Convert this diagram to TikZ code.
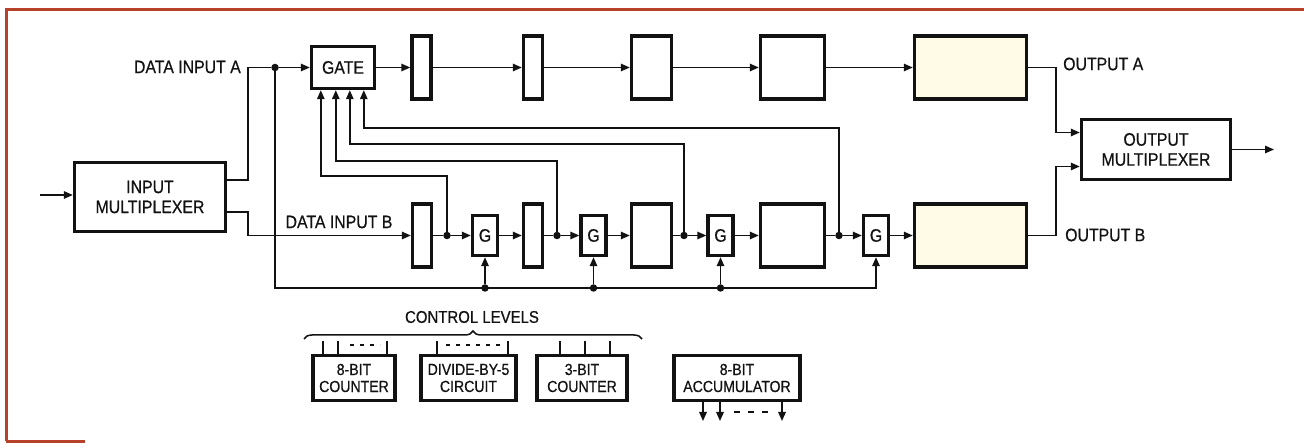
\documentclass[tikz,border=0pt]{standalone}
\usepackage{fontspec}
\setmainfont{Liberation Sans}[FakeStretch=0.88, FakeBold=0.6]
\usetikzlibrary{arrows.meta, positioning, calc, decorations.pathreplacing}
\definecolor{framecol}{HTML}{B8412C}
\definecolor{inkcol}{HTML}{121212}
\definecolor{outcol}{HTML}{FFFBE6}

\begin{document}
\begin{tikzpicture}[
    x=1pt, y=-1pt,
    every node/.style={font=\fontsize{18}{20}\selectfont, text=inkcol},
    box/.style={rectangle, draw=inkcol, line width=3.4pt, inner sep=0pt,
                align=center},
    reg/.style={box, minimum width=#1, minimum height=63pt},
    reg/.default=19pt,
    gbox/.style={box, minimum width=25pt, minimum height=40pt},
    mux/.style={box, minimum width=#1, minimum height=62pt},
    outbox/.style={box, fill=outcol, minimum width=112pt, minimum height=63pt},
    cbox/.style={box, minimum height=45pt, font=\fontsize{16}{17}\selectfont},
    wire/.style={line width=1.5pt, draw=inkcol},
    arr/.style={wire, -{Triangle[length=9pt, width=7.5pt]}},
    dot/.style={circle, fill=inkcol, inner sep=0pt, minimum size=7.5pt},
    lbl/.style={inner sep=0pt},
]
\useasboundingbox (0,0) rectangle (1304,443);

% frame
\draw[framecol, line width=3pt] (6,441) -- (6,10) -- (1304,10);
\draw[framecol, line width=3pt] (6,441) -- (85,441);

% input side
\coordinate (inp) at (40,195);
\node[mux=151pt, minimum height=69pt] (inmux) at (150,197) {INPUT\\MULTIPLEXER};
\node[box, minimum width=63pt, minimum height=42pt] (gate) at (343,67.5) {GATE};
\node[dot] (dA) at (275,67.5) {};

% channel A
\node[reg] (ua1) at (421.5,67.5) {};
\node[reg] (ua2) at (533,67.5) {};
\node[reg=40pt] (ua3) at (651.5,67.5) {};
\node[reg=64pt] (ua4) at (792.5,67.5) {};
\node[outbox] (outa) at (970.5,67.5) {};

% channel B
\node[reg] (lb1) at (422,235.5) {};
\node[gbox] (g1) at (485,235.5) {G};
\node[reg] (lb2) at (533,235.5) {};
\node[gbox] (g2) at (593.5,235.5) {G};
\node[reg=40pt] (lb3) at (651.5,235.5) {};
\node[gbox] (g3) at (720.5,235.5) {G};
\node[reg=64pt] (lb4) at (792.5,235.5) {};
\node[gbox] (g4) at (876,235.5) {G};
\node[outbox] (outb) at (970.5,235.5) {};

\node[dot] (d1) at (447,235.5) {};
\node[dot] (d2) at (557,235.5) {};
\node[dot] (d3) at (684,235.5) {};
\node[dot] (d4) at (839,235.5) {};

% output side
\node[mux=149pt, minimum height=60pt] (omux) at (1156,149.5) {OUTPUT\\MULTIPLEXER};
\coordinate (outp) at (1274,149.5);

% labels
\node[lbl, anchor=east] (lbla) at (241,67) {DATA INPUT A};
\node[lbl] (lblb) at (339,222) {DATA INPUT B};
\node[lbl, anchor=west] (lbloa) at (1063,64) {OUTPUT A};
\node[lbl, anchor=west] (lblob) at (1065,235) {OUTPUT B};

% input connections
\draw[arr] (inp) -- (inp -| inmux.west);
\draw[wire] (inmux.east |- 0,180) -- (248,180) |- (dA);
\draw[arr] (dA) -- (gate);
\draw[arr] (inmux.east |- 0,212) -- (248,212) |- (lb1);

% channel A arrows
\draw[arr] (gate) -- (ua1);
\draw[arr] (ua1) -- (ua2);
\draw[arr] (ua2) -- (ua3);
\draw[arr] (ua3) -- (ua4);
\draw[arr] (ua4) -- (outa);

% channel B arrows
\draw[wire] (lb1) -- (d1);
\draw[arr] (d1) -- (g1);
\draw[arr] (g1) -- (lb2);
\draw[wire] (lb2) -- (d2);
\draw[arr] (d2) -- (g2);
\draw[arr] (g2) -- (lb3);
\draw[wire] (lb3) -- (d3);
\draw[arr] (d3) -- (g3);
\draw[arr] (g3) -- (lb4);
\draw[wire] (lb4) -- (d4);
\draw[arr] (d4) -- (g4);
\draw[arr] (g4) -- (outb);

% feedback to gate
\coordinate (gi1) at ($(gate.south west)+(11,0)$);
\coordinate (gi2) at ($(gate.south west)+(26,0)$);
\coordinate (gi3) at ($(gate.south west)+(40,0)$);
\coordinate (gi4) at ($(gate.south west)+(54,0)$);
\draw[arr] (d1) -- (d1 |- 0,176) -| (gi1);
\draw[arr] (d2) -- (d2 |- 0,161) -| (gi2);
\draw[arr] (d3) -- (d3 |- 0,144) -| (gi3);
\draw[arr] (d4) -- (d4 |- 0,128) -| (gi4);

% clock bus
\coordinate (bus) at (275,288);
\draw[arr] (dA) |- (g4 |- bus) -- (g4);
\node[dot] (b1) at (g1 |- bus) {};
\node[dot] (b2) at (g2 |- bus) {};
\node[dot] (b3) at (g3 |- bus) {};
\draw[arr] (b1) -- (g1);
\draw[arr] (b2) -- (g2);
\draw[arr] (b3) -- (g3);

% outputs
\draw[arr] (outa) -- (1056,67.5) |- ($(omux.west)+(0,-17)$);
\draw[arr] (outb) -- (1056,235.5) |- ($(omux.west)+(0,17)$);
\draw[arr] (omux) -- (outp);

% control levels
\node[lbl, font=\fontsize{17}{17}\selectfont] (ctrl) at (472,317) {CONTROL LEVELS};
\draw[wire, decorate, decoration={brace, amplitude=8pt}] (304,339) -- (642,339);

\node[cbox, minimum width=82pt] (cnt8) at (354,378) {8-BIT\\COUNTER};
\node[cbox, minimum width=95pt] (div5) at (468.5,378) {DIVIDE-BY-5\\CIRCUIT};
\node[cbox, minimum width=90pt] (cnt3) at (582,378) {3-BIT\\COUNTER};
\node[cbox, minimum width=126pt] (accum) at (737,378) {8-BIT\\ACCUMULATOR};

% counter taps
\foreach \tx in {323,338,387}
  \draw[wire] (\tx,341) -- (\tx,341 |- cnt8.north);
\draw[wire, line width=1.2pt, dash pattern=on 4pt off 6pt] (350,345) -- (380,345);
\foreach \tx in {437,508}
  \draw[wire] (\tx,341) -- (\tx,341 |- div5.north);
\draw[wire, line width=1.2pt, dash pattern=on 4pt off 6pt] (446,345) -- (502,345);
\foreach \tx in {560,585,610}
  \draw[wire] (\tx,341) -- (\tx,341 |- cnt3.north);

% accumulator outputs
\foreach \tx in {703,720,782}
  \draw[arr] (\tx,421 |- accum.south) -- (\tx,421);
\draw[wire, dash pattern=on 6pt off 8pt] (734,412) -- (772,412);

\end{tikzpicture}
\end{document}
